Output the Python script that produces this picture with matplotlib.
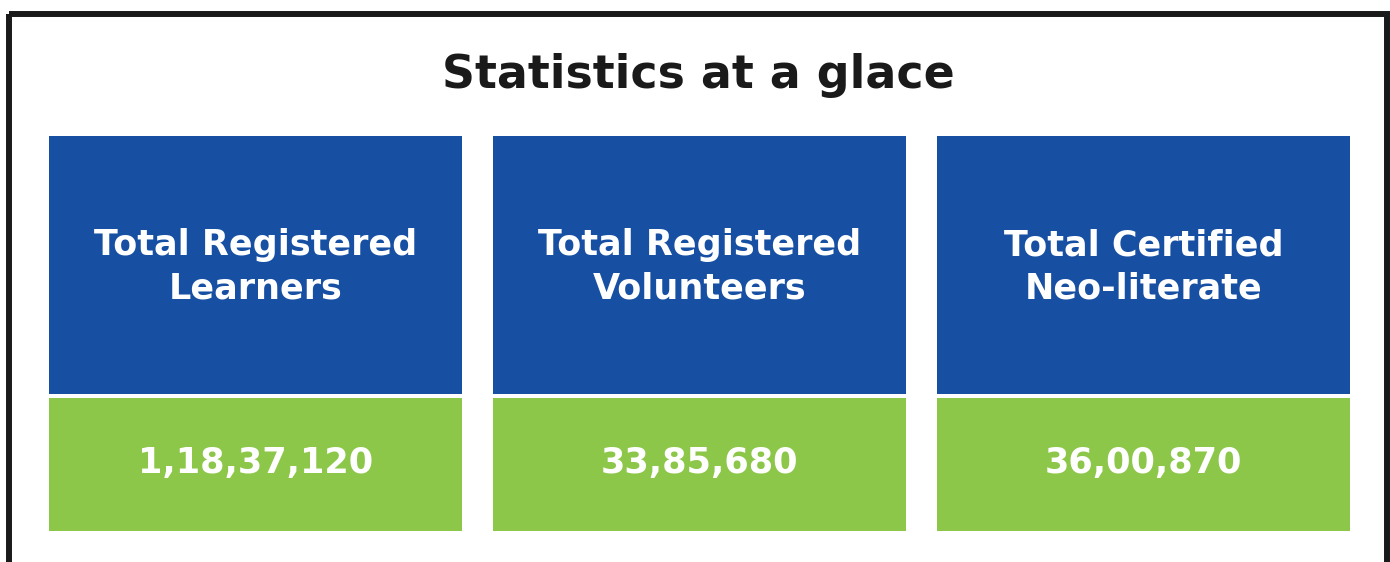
import matplotlib
matplotlib.use("Agg")
from matplotlib import pyplot as plt
from matplotlib.patches import Rectangle

# data
title = "Statistics at a glace"
labels = ["Total Registered\nLearners", "Total Registered\nVolunteers", "Total Certified\nNeo-literate"]
values = ["1,18,37,120", "33,85,680", "36,00,870"]

blue = "#1750a3"
green = "#8dc74a"
dark = "#1a1a1a"

W, H = 1390, 562
fig = plt.figure(figsize=(W / 100, H / 100), dpi=100)
ax = fig.add_axes([0, 0, 1, 1])
ax.set_xlim(0, W)
ax.set_ylim(H, 0)
ax.axis('off')

# outer frame (bottom is cut off in the picture)
ax.add_patch(Rectangle((9, 14), 1377.5, 600, fill=False, edgecolor=dark, linewidth=4.3))

ax.text(698, 75, title, ha='center', va='center', fontsize=33, fontweight='bold',
        color=dark, family='DejaVu Sans')

box_w = 413
x0 = 49
step = 444
for i, (lab, val) in enumerate(zip(labels, values)):
    left = x0 + i * step
    ax.add_patch(Rectangle((left, 136), box_w, 258, facecolor=blue, edgecolor='none'))
    ax.add_patch(Rectangle((left, 398), box_w, 133, facecolor=green, edgecolor='none'))
    ax.text(left + box_w / 2, 267, lab, ha='center', va='center', fontsize=25.2,
            fontweight='bold', color='white', linespacing=1.35, family='DejaVu Sans')
    ax.text(left + box_w / 2, 463, val, ha='center', va='center', fontsize=25.3,
            fontweight='bold', color='white', family='DejaVu Sans')

plt.savefig('out.png', dpi=100, facecolor='white')
plt.close('all')
